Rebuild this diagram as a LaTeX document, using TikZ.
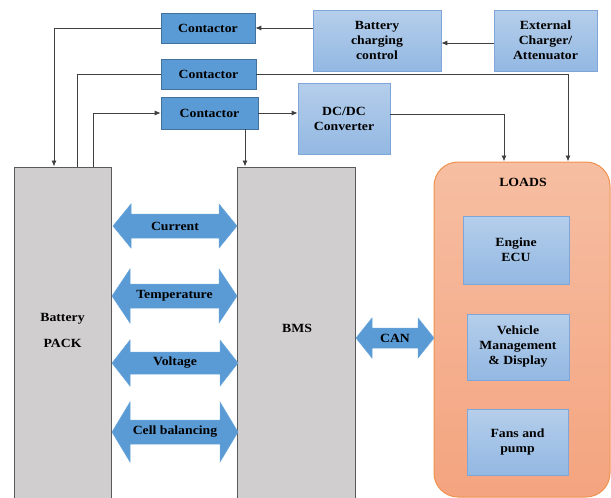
\documentclass[tikz,border=0pt]{standalone}
\usepackage{fontspec}
\setmainfont{Liberation Serif}[FakeStretch=1.1]
\usetikzlibrary{arrows.meta}
\definecolor{cblue}{HTML}{5B9BD5}
\definecolor{cbluedk}{HTML}{41719C}
\definecolor{ltop}{HTML}{B5CEEB}
\definecolor{lbot}{HTML}{93B8E2}
\definecolor{lborder}{HTML}{7EA6D8}
\definecolor{gfill}{HTML}{D0CECE}
\definecolor{gdraw}{HTML}{5A5A5A}
\definecolor{otop}{HTML}{F6BEA2}
\definecolor{obot}{HTML}{F4A47F}
\definecolor{oborder}{HTML}{F0924F}
\definecolor{linec}{HTML}{404040}
\definecolor{arrb}{HTML}{6AA6DC}
\tikzset{
  txt/.style={font=\fontsize{12.5}{15}\selectfont\bfseries, align=center, text=black},
  contbox/.style={txt, draw=cbluedk, fill=cblue, line width=0.6pt, inner sep=0pt},
  lbox/.style={txt, draw=lborder, top color=ltop, bottom color=lbot, line width=0.6pt, inner sep=0pt},
  gbox/.style={txt, draw=gdraw, fill=gfill, line width=1pt, inner sep=0pt},
  obox/.style={draw=oborder, top color=otop, bottom color=obot, line width=1pt, rounded corners=24pt, inner sep=0pt},
  conn/.style={draw=linec, line width=0.9pt},
  arr/.style={conn, -{Latex[length=6pt,width=5pt]}},
  dblshape/.style={fill=cblue, draw=arrb, line width=0.5pt},
}
\newcommand{\dbl}[8]{%
  \path[dblshape] (#2,#4) -- ({#2+#7},{#4-#5}) -- ({#2+#7},{#4-#6}) -- ({#3-#7},{#4-#6}) -- ({#3-#7},{#4-#5}) -- (#3,#4)
    -- ({#3-#7},{#4+#5}) -- ({#3-#7},{#4+#6}) -- ({#2+#7},{#4+#6}) -- ({#2+#7},{#4+#5}) -- cycle;
  \node[txt] (#1) at ({(#2+#3)/2},#4) {#8};
}
\begin{document}
\begin{tikzpicture}[x=1pt,y=-1pt]
\useasboundingbox (0,0) rectangle (611,498);
% top boxes
\node[contbox, minimum width=94pt, minimum height=30pt] (C1) at (208,28) {Contactor};
\node[contbox, minimum width=95pt, minimum height=30pt] (C2) at (208.5,74) {Contactor};
\node[contbox, minimum width=97pt, minimum height=32pt] (C3) at (209.5,113) {Contactor};
\node[lbox, minimum width=128pt, minimum height=61pt] (BCC) at (377,40.5) {Battery\\charging\\control};
\node[lbox, minimum width=103pt, minimum height=61pt] (EXT) at (545.5,40.5) {External\\Charger/\\Attenuator};
\node[lbox, minimum width=92pt, minimum height=71pt] (DCDC) at (344,118.5) {DC/DC\\Converter};
% main columns
\node[gbox, minimum width=97pt, minimum height=334pt] (BAT) at (62.5,334) {};
\node[txt] (BATL) at (62.5,330) {Battery\\[11pt]PACK};
\node[gbox, minimum width=118pt, minimum height=334pt] (BMS) at (296,334) {};
\node[txt] (BMSL) at (297,328) {BMS};
% loads
\node[obox, minimum width=176pt, minimum height=335pt] (LOADS) at (522,329.5) {};
\node[txt] (LOADSL) at (523,182) {LOADS};
\node[lbox, minimum width=106pt, minimum height=68pt] (ECU) at (516,250) {Engine\\ECU};
\node[lbox, minimum width=102pt, minimum height=66pt] (VMD) at (518,347) {Vehicle\\Management\\\& Display};
\node[lbox, minimum width=101pt, minimum height=66pt] (FAN) at (517.5,442) {Fans and\\pump};
% double arrows
\dbl{CUR}{113}{237}{226}{22}{12}{18}{Current}
\dbl{TEMP}{112}{237}{296}{27}{12}{18}{Temperature}
\dbl{VOLT}{112}{238}{363}{23}{11}{18}{Voltage}
\dbl{CELL}{112}{238}{432}{30}{12}{18}{Cell balancing}
\dbl{CAN}{356}{434}{338}{20}{10}{16}{CAN}
% connectors
\draw[arr] (BCC.west |- C1.east) -- (C1.east);
\draw[arr] ([yshift=-2.5pt]EXT.west) -- ([yshift=-2.5pt]BCC.east);
\draw[arr] (C1.west) -| ([xshift=-8.5pt]BAT.north);
\draw[conn] ([xshift=14.5pt]BAT.north) |- (C2.west);
\draw[arr] (C2.east) -| ([xshift=46pt]LOADS.north);
\draw[arr] ([xshift=30.5pt]BAT.north) |- (C3.west);
\draw[arr] (C3.east) -- (C3.east -| DCDC.west);
\draw[arr] ([xshift=35.5pt]C3.south) -- ([xshift=35.5pt]C3.south |- BMS.north);
\draw[arr] ([yshift=4.5pt]DCDC.east) -| ([xshift=-18pt]LOADS.north);
\end{tikzpicture}
\end{document}
